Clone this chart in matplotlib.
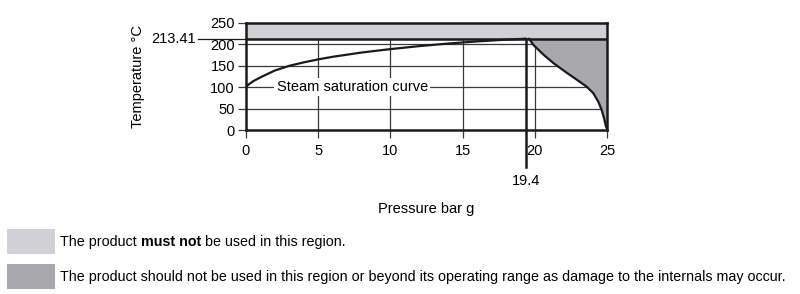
import matplotlib
matplotlib.use("Agg")
import matplotlib.pyplot as plt
from matplotlib.patches import Rectangle
import matplotlib.transforms as mtransforms

plt.rcParams['font.family'] = ['Liberation Sans', 'DejaVu Sans']

# Data
sat_pressure = [0, 0.1, 0.25, 0.5, 1, 1.5, 2, 3, 4, 5, 6, 7, 8, 9, 10, 12, 14, 16, 18, 19.4]
sat_temp = [100, 104, 108, 114, 123, 131, 139, 150, 158, 165, 171, 176, 181, 185, 189,
            196, 202, 207, 211, 213.41]
dmg_pressure = [19.6, 19.9, 20.6, 21.3, 22.2, 23.1, 23.6, 24.05, 24.4, 24.63, 24.8, 24.93, 25]
dmg_temp = [213.41, 199, 176, 156, 134, 113, 101, 86, 66, 47, 27, 8, 3]
x_ticks = [0, 5, 10, 15, 20, 25]
y_ticks = [0, 50, 100, 150, 200, 250]
t_max = 213.41
p_max = 19.4
x_lim = (0, 25)
y_lim = (0, 250)
legend_texts = [
    ("The product ", "must not", " be used in this region."),
    ("The product should not be used in this region or beyond its operating range as damage to the internals may occur.", "", ""),
]

light = '#d1d1d5'
dark = '#a8a8ad'
ink = '#1a1a1a'
grid_c = '#3a3a3a'
fs = 10.5
lfs = 10.3

fig = plt.figure(figsize=(8, 2.94), dpi=100)
ax = fig.add_axes([246/800, 1-130/294, 361/800, 107/294])
ax.set_xlim(*x_lim)
ax.set_ylim(*y_lim)

# grid
for x in x_ticks[1:-1]:
    ax.plot([x, x], [y_lim[0], t_max], color=grid_c, lw=0.9, zorder=1)
for y in y_ticks[1:-1]:
    ax.plot([x_lim[0], x_lim[1]], [y, y], color=grid_c, lw=0.9, zorder=1)

# top band
ax.add_patch(Rectangle((x_lim[0], t_max), x_lim[1]-x_lim[0], y_lim[1]-t_max,
                       facecolor=light, edgecolor='none', zorder=2))
# damage region
fx = list(dmg_pressure) + [x_lim[1]]
fy = list(dmg_temp) + [t_max]
ax.fill(fx, fy, facecolor=dark, edgecolor='none', zorder=2)
ax.plot(dmg_pressure, dmg_temp, color=ink, lw=1.6, zorder=3,
        solid_joinstyle='round', solid_capstyle='round')

# saturation curve
ax.plot(sat_pressure, sat_temp, color=ink, lw=1.6, zorder=3,
        solid_joinstyle='round', solid_capstyle='round')

# max temp line
ax.plot([x_lim[0], x_lim[1]], [t_max, t_max], color=ink, lw=1.8, zorder=4)
trans_l = mtransforms.blended_transform_factory(ax.transAxes, ax.transData)
ax.plot([-48/361, 0], [t_max, t_max], color=ink, lw=0.9, transform=trans_l, clip_on=False)
ax.text(-50/361, t_max, "213.41", transform=trans_l, ha='right', va='center', fontsize=fs)

# 19.4 line
trans_b = mtransforms.blended_transform_factory(ax.transData, ax.transAxes)
ax.plot([p_max, p_max], [t_max/y_lim[1], -37/107], color=ink, lw=1.8,
        transform=trans_b, clip_on=False, zorder=4)
ax.text(p_max, -44/107, "19.4", transform=trans_b, ha='center', va='top', fontsize=fs)

# label
ax.text(7.35, 100, "Steam saturation curve", ha='center', va='center', fontsize=fs,
        bbox=dict(facecolor='white', edgecolor='none', pad=1.5), zorder=5)

for s in ax.spines.values():
    s.set_linewidth(1.8)
    s.set_color(ink)
    s.set_zorder(6)

ax.set_xticks(x_ticks)
ax.set_yticks(y_ticks)
ax.tick_params(axis='both', direction='out', length=6, width=0.9, color=grid_c,
               labelsize=fs, pad=2)
ax.tick_params(axis='x', pad=4)

ax.set_ylabel("Temperature °C", fontsize=fs)
ax.yaxis.set_label_coords(-101/361, 0.5)
ax.set_xlabel("Pressure bar g", fontsize=fs)
ax.xaxis.set_label_coords(180/361, -72/107)

# legend swatches
fig.patches.append(Rectangle((7/800, 1-254/294), 48/800, 25/294, transform=fig.transFigure,
                             facecolor=light, edgecolor='none'))
fig.patches.append(Rectangle((7/800, 1-289/294), 48/800, 25/294, transform=fig.transFigure,
                             facecolor=dark, edgecolor='none'))

y1 = 1-242/294
t = fig.text(60/800, y1, legend_texts[0][0], fontsize=lfs, va='center')
fig.canvas.draw()
r = fig.canvas.get_renderer()
bb = t.get_window_extent(r)
t2 = fig.text(bb.x1/800, y1, legend_texts[0][1], fontsize=lfs, va='center', fontweight='bold')
bb2 = t2.get_window_extent(r)
fig.text(bb2.x1/800, y1, legend_texts[0][2], fontsize=lfs, va='center')
fig.text(60/800, 1-277/294, legend_texts[1][0], fontsize=lfs, va='center')

fig.savefig("out.png", dpi=100)
